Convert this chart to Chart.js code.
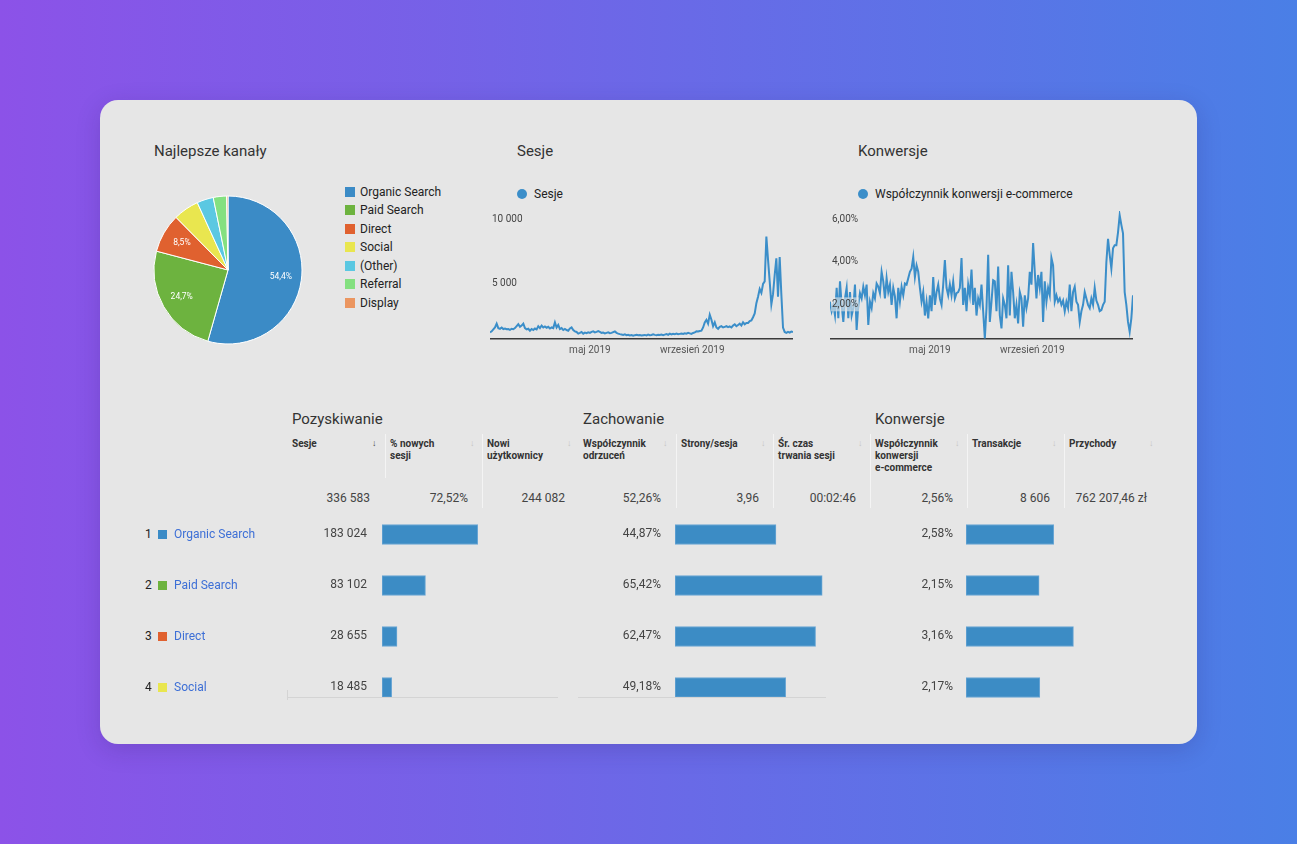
<!DOCTYPE html>
<html>
<head>
<meta charset="utf-8">
<script src="https://cdn.jsdelivr.net/npm/chart.js@4.4.1/dist/chart.umd.min.js"></script>
<style>
html,body{margin:0;padding:0}
body{width:1297px;height:844px;overflow:hidden;position:relative;
  background:linear-gradient(90deg,#8c52e8 0%,#4a7fe6 100%);
  font-family:Roboto,"Noto Sans",sans-serif}
.card{position:absolute;left:100px;top:100px;width:1097px;height:644px;border-radius:18px;
  background:#e6e6e6;box-shadow:0 6px 24px rgba(40,20,90,.18)}
.t{position:absolute;white-space:nowrap;color:#333}
canvas{position:absolute}
.box{position:absolute}
</style>
</head>
<body>
<div class="card"></div>

<canvas id="pie" width="156" height="156" style="left:150px;top:192px"></canvas>
<canvas id="sessions" width="303" height="148" style="left:490px;top:211px"></canvas>
<canvas id="conv" width="303" height="148" style="left:830px;top:211px"></canvas>
<canvas id="barSessions" width="176" height="204" style="left:382px;top:509px"></canvas>
<canvas id="barBounce" width="225" height="204" style="left:675px;top:509px"></canvas>
<canvas id="barConv" width="170" height="204" style="left:966px;top:509px"></canvas>

<script>
// channels (pie)
const channels = ['Organic Search', 'Paid Search', 'Direct', 'Social', '(Other)', 'Referral', 'Display']
const channelShares = [54.4, 24.7, 8.5, 5.6, 3.6, 2.9, 0.3]
const channelColors = ['#3b8bc6', '#6db33f', '#e0612f', '#e9e64f', '#5bc8e2', '#84e080', '#eb9660']

// x axis of both line charts: one point every 2nd day of 2019
const dayStep = 2
const monthDays = [120, 243]
const monthLabels = ['maj 2019', 'wrzesień 2019']

const sessions = [
  520, 600, 750, 900, 1200, 850, 800, 900, 780, 820,
  760, 780, 720, 800, 760, 850, 1000, 1150, 950, 1050,
  1200, 850, 750, 800, 650, 780, 700, 820, 750, 1000,
  850, 1050, 900, 980, 880, 950, 820, 900, 850, 1300,
  900, 1100, 780, 850, 700, 780, 700, 650, 820, 900,
  700, 600, 550, 420, 480, 550, 420, 500, 450, 520,
  480, 560, 600, 520, 560, 620, 550, 480, 500, 440,
  480, 520, 450, 480, 540, 600, 480, 420, 380, 350,
  320, 360, 300, 330, 280, 310, 260, 300, 330, 290,
  310, 270, 300, 320, 280, 340, 300, 310, 360, 320,
  290, 330, 310, 350, 300, 340, 380, 330, 420, 360,
  400, 380, 420, 370, 400, 430, 390, 450, 420, 480,
  440, 400, 470, 520, 600, 580, 620, 650, 900, 1300,
  1500, 1200, 1900, 1500, 1000, 1300, 900, 800, 950, 1000,
  900, 950, 1000, 920, 980, 900, 1050, 1150, 1000, 1100,
  1200, 1050, 1300, 1150, 1250, 1250, 1400, 1450, 1700, 2000,
  2800, 3300, 3900, 3600, 4300, 4500, 8000, 6200, 4500, 2700,
  3500, 5000, 6300, 3300, 6400, 3500, 900, 550, 480, 560,
  500, 580, 540
]
const sessionsTicks = [5000, 10000]
const sessionsTickLabels = ['5 000', '10 000']

const convRate = [
  1.75, 1.3, 1.6, 1.1, 2.4, 0.97, 2.7, 1.6, 0.8, 1.9,
  2.4, 0.97, 2.2, 1.1, 1.45, 2.55, 0.42, 1.6, 2.15, 1.9,
  2.45, 2.05, 2.55, 0.66, 1.75, 1.45, 2.15, 1.9, 2.6, 2.45,
  2.15, 3.15, 2.7, 1.9, 2.85, 2.2, 2.55, 1.6, 2.4, 2.0,
  0.97, 2.4, 1.75, 2.45, 2.05, 2.6, 2.55, 2.85, 3.15, 3.3,
  3.85, 2.9, 3.45, 3.15, 2.4, 1.75, 2.2, 1.1, 1.75, 0.97,
  2.05, 1.3, 2.9, 1.6, 2.2, 2.55, 1.9, 1.6, 2.55, 3.7,
  2.4, 2.05, 2.55, 2.05, 2.7, 1.9, 2.15, 2.2, 2.4, 3.8,
  1.6, 2.4, 1.3, 2.55, 2.05, 3.25, 1.6, 2.4, 1.1, 1.9,
  1.6, 2.55, 1.3, 0.03, 1.45, 3.95, 0.8, 1.75, 2.75, 2.7,
  1.3, 3.4, 1.1, 0.5, 1.9, 1.6, 0.97, 3.45, 1.1, 3.15,
  2.2, 0.97, 1.6, 0.73, 2.2, 1.9, 0.58, 2.05, 1.45, 1.9,
  3.15, 2.55, 4.5, 3.15, 1.9, 3.0, 2.4, 3.15, 0.8, 2.7,
  1.75, 2.4, 2.05, 3.8, 3.45, 1.75, 2.05, 1.75, 1.9, 1.6,
  1.8, 1.3, 1.75, 1.45, 2.55, 1.3, 2.2, 2.45, 1.75, 1.6,
  0.8, 1.3, 1.6, 2.2, 1.9, 1.6, 1.45, 1.9, 1.6, 2.4,
  1.8, 1.6, 1.3, 1.35, 1.6, 1.75, 3.6, 4.7, 3.95, 3.3,
  4.25, 4.4, 4.4, 5.0, 5.8, 5.35, 4.95, 2.2, 1.6, 0.8,
  0.34, 0.97, 2.05
]
const convTicks = [2, 4, 6]
const convTickLabels = ['2,00%', '4,00%', '6,00%']

// table
const tableChannels = ['Organic Search', 'Paid Search', 'Direct', 'Social']
const tableSessions = [183024, 83102, 28655, 18485]
const totalSessions = 336583
const bounceRates = [44.87, 65.42, 62.47, 49.18]
const convRates = [2.58, 2.15, 3.16, 2.17]
const headers = ['Sesje', '% nowych\nsesji', 'Nowi\nużytkownicy', 'Współczynnik\nodrzuceń', 'Strony/sesja',
  'Śr. czas\ntrwania sesji', 'Współczynnik\nkonwersji\ne-commerce', 'Transakcje', 'Przychody']
const totals = ['336 583', '72,52%', '244 082', '52,26%', '3,96', '00:02:46', '2,56%', '8 606', '762 207,46 zł']

const lineBlue = '#3b8ec9'
const barBlue = '#3c8cc5'

// helpers
function put(text, x, y, size, opt) {
    opt = opt || {}
    const d = document.createElement('div')
    d.className = 't'
    d.textContent = text
    const lh = size + 4
    d.style.fontSize = size + 'px'
    d.style.lineHeight = lh + 'px'
    d.style.top = (y - lh / 2) + 'px'
    if (opt.right) {
        d.style.left = (x - 300) + 'px'
        d.style.width = '300px'
        d.style.textAlign = 'right'
    } else {
        d.style.left = x + 'px'
    }
    if (opt.color) d.style.color = opt.color
    if (opt.bold) d.style.fontWeight = 'bold'
    document.body.append(d)
    return d
}
function rect(x, y, w, h, color) {
    const d = document.createElement('div')
    d.className = 'box'
    d.style.left = x + 'px'
    d.style.top = y + 'px'
    d.style.width = w + 'px'
    d.style.height = h + 'px'
    d.style.background = color
    document.body.append(d)
    return d
}
const fmtInt = n => n.toString().replace(/\B(?=(\d{3})+(?!\d))/g, ' ')
const fmtPct = v => v.toFixed(2).replace('.', ',') + '%'

// titles
put('Najlepsze kanały', 154, 151, 15)
put('Sesje', 517, 151, 15)
put('Konwersje', 858, 151, 15)

// pie legend
channels.forEach((c, i) => {
    const y = 191 + i * 18.5
    rect(345, y - 4.5, 10, 10, channelColors[i])
    put(c, 360, y + 0.5, 12, {color: '#222'})
})

// line legends
rect(517, 189, 10, 10, lineBlue).style.borderRadius = '50%'
put('Sesje', 534, 194, 12, {color: '#222'})
rect(858, 189, 10, 10, lineBlue).style.borderRadius = '50%'
put('Współczynnik konwersji e-commerce', 875, 194, 12, {color: '#222'})

// table texts
put('Pozyskiwanie', 292, 419, 15)
put('Zachowanie', 583, 419, 15)
put('Konwersje', 875, 419, 15)
const colStart = [292, 390, 487, 583, 681, 778, 875, 972, 1069]
headers.forEach((h, i) => {
    const d = put(h, colStart[i], 444, 10, {bold: true})
    d.style.whiteSpace = 'pre'
    d.style.lineHeight = '12px'
    d.style.top = '438px'
    put('↓', colStart[i] + 80, 443, 9, {color: i === 0 ? '#444' : '#c4c4c4', bold: true})
    put(totals[i], colStart[i] + 78, 498, 12, {right: true, color: '#444'})
})
// column separators
;[385, 482, 676, 773, 870, 967, 1064].forEach((x, k) => {
    rect(x, 434, 1, k === 0 ? 44 : 74, 'rgba(255,255,255,0.55)')
})
// faint bottom tracks
rect(287, 697, 271, 1, '#d4d4d4')
rect(287, 690, 1, 10, '#d4d4d4')
rect(578, 697, 248, 1, '#d4d4d4')

tableChannels.forEach((c, i) => {
    const y = 534 + i * 51
    put(String(i + 1), 145, y, 12, {color: '#222'})
    rect(158, y - 4, 9, 9, channelColors[i])
    put(c, 174, y, 12, {color: '#3d6fd6'})
    put(fmtInt(tableSessions[i]), 367, y - 1, 12, {right: true, color: '#444'})
    put(fmtPct(bounceRates[i]), 661, y - 1, 12, {right: true, color: '#444'})
    put(fmtPct(convRates[i]), 953, y - 1, 12, {right: true, color: '#444'})
})

// pie chart
const sliceLabels = {
    id: 'sliceLabels',
    afterDatasetsDraw(chart) {
        const ctx = chart.ctx
        ctx.save()
        ctx.font = '8.5px Roboto'
        ctx.fillStyle = '#ffffff'
        ctx.textAlign = 'center'
        ctx.textBaseline = 'middle'
        chart.getDatasetMeta(0).data.forEach((arc, i) => {
            const v = channelShares[i]
            if (v < 8) return
            const p = arc.getProps(['x', 'y', 'startAngle', 'endAngle', 'outerRadius'])
            const a = (p.startAngle + p.endAngle) / 2
            const r = p.outerRadius * 0.72
            ctx.fillText(v.toFixed(1).replace('.', ',') + '%', p.x + Math.cos(a) * r, p.y + Math.sin(a) * r)
        })
        ctx.restore()
    }
}
new Chart(document.getElementById('pie'), {
    type: 'pie',
    data: {labels: channels, datasets: [{data: channelShares, backgroundColor: channelColors,
        borderColor: '#ffffff', borderWidth: 1, radius: 74, hoverOffset: 0}]},
    options: {responsive: false, animation: false, events: [],
        layout: {padding: 0},
        plugins: {legend: {display: false}, tooltip: {enabled: false}}},
    plugins: [sliceLabels]
})

// line charts
function lineChart(id, values, yMax, ticks, tickLabels) {
    new Chart(document.getElementById(id), {
        type: 'line',
        data: {datasets: [{data: values.map((v, i) => ({x: i * dayStep, y: v})),
            borderColor: lineBlue, borderWidth: 2, pointRadius: 0, tension: 0, fill: false}]},
        options: {
            responsive: false, animation: false, events: [],
            layout: {padding: 0},
            plugins: {legend: {display: false}, tooltip: {enabled: false}},
            scales: {
                x: {type: 'linear', min: 0, max: 364,
                    grid: {display: false, drawTicks: false},
                    border: {display: true, color: '#3a3a3a', width: 1.5},
                    afterBuildTicks: s => { s.ticks = monthDays.map(v => ({value: v})) },
                    afterFit: s => { s.height = 20; s.paddingLeft = 0; s.paddingRight = 0 },
                    ticks: {callback: v => monthLabels[monthDays.indexOf(v)], color: '#555',
                        font: {family: 'Roboto', size: 10}, maxRotation: 0, autoSkip: false, padding: 5}},
                y: {min: 0, max: yMax,
                    grid: {display: false, drawTicks: false},
                    border: {display: false},
                    afterBuildTicks: s => { s.ticks = ticks.map(v => ({value: v})) },
                    afterFit: s => { s.width = 0; s.paddingTop = 0; s.paddingBottom = 0 },
                    ticks: {z: 1, mirror: true, padding: 2, labelOffset: 8, color: '#444',
                        showLabelBackdrop: true, backdropColor: 'rgba(232,232,232,0.6)', backdropPadding: 1,
                        font: {family: 'Roboto', size: 10},
                        callback: v => tickLabels[ticks.indexOf(v)]}}
            }
        }
    })
}
lineChart('sessions', sessions, 10000, sessionsTicks, sessionsTickLabels)
lineChart('conv', convRate, 6, convTicks, convTickLabels)

// table bars
function barColumn(id, values, max) {
    new Chart(document.getElementById(id), {
        type: 'bar',
        data: {labels: tableChannels, datasets: [{data: values, backgroundColor: barBlue,
            borderColor: '#6aa6d4', borderWidth: 1, borderSkipped: false, barThickness: 20}]},
        options: {indexAxis: 'y', responsive: false, animation: false, events: [],
            layout: {padding: 0},
            plugins: {legend: {display: false}, tooltip: {enabled: false}},
            scales: {x: {display: false, min: 0, max: max}, y: {display: false}}}
    })
}
barColumn('barSessions', tableSessions, totalSessions)
barColumn('barBounce', bounceRates, 100)
barColumn('barConv', convRates, 5)
</script>
</body>
</html>
